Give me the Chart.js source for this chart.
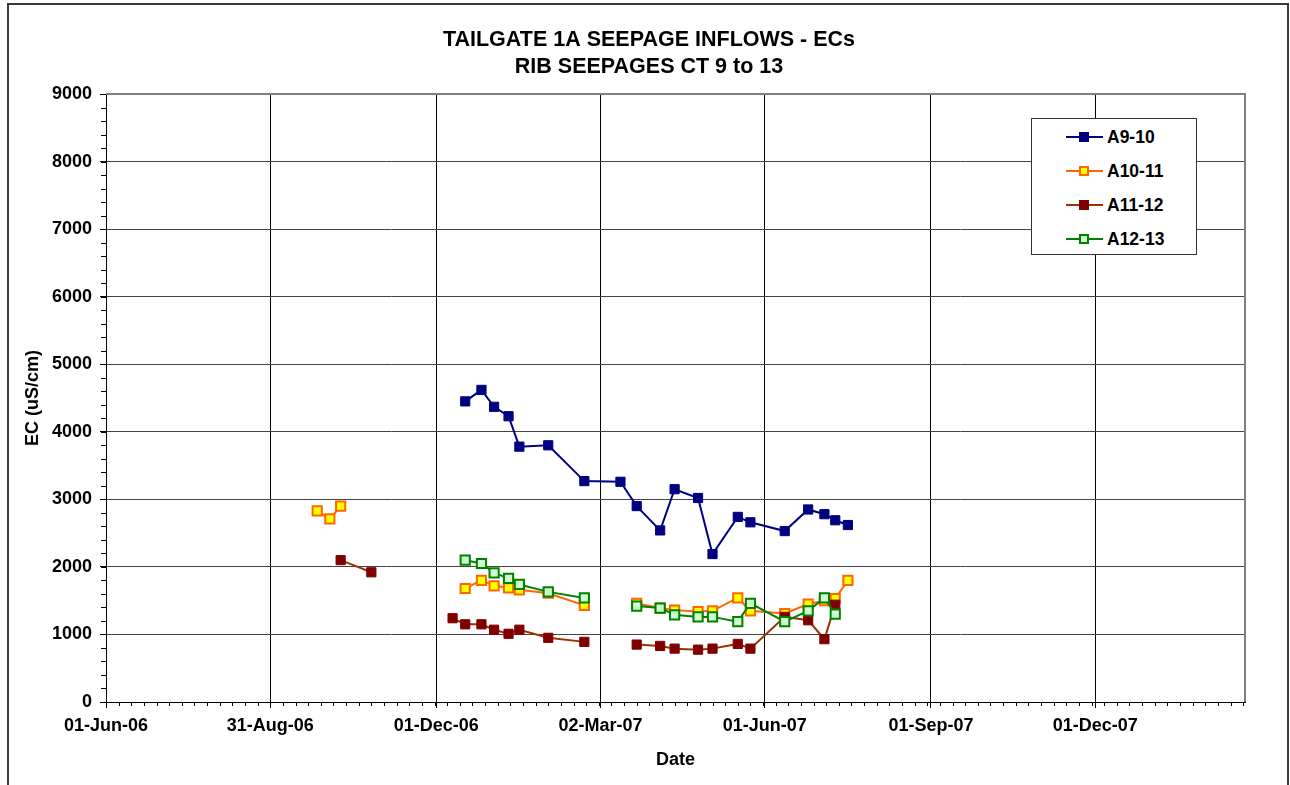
<!DOCTYPE html>
<html>
<head>
<meta charset="utf-8">
<title>Tailgate 1A seepage inflows - ECs</title>
<script src="https://cdn.jsdelivr.net/npm/chart.js@4.4.1/dist/chart.umd.min.js"></script>
<style>
  html, body { margin: 0; padding: 0; background: #fff; }
  #wrap { position: relative; width: 1290px; height: 785px; overflow: hidden; }
  #frame { position: absolute; left: 7px; top: 3px; width: 1278px; height: 800px; border: 2px solid #3a3a3a; }
  #chartBox { position: absolute; left: 0; top: 0; width: 1290px; height: 785px; }
  #legend { position: absolute; left: 1031px; top: 118px; width: 164px; height: 135px;
            border: 1px solid #333; background: #fff;
            font: bold 17.5px "Liberation Sans", Arial, sans-serif; color: #000; }
  .row { position: absolute; left: 0; height: 20px; width: 100%; }
  .sym { position: absolute; left: 34px; top: 0; width: 37px; height: 20px; }
  .sym .ln { position: absolute; left: 0; top: 9px; width: 37px; height: 2px; }
  .sym .mk { position: absolute; top: 5px; left: 13px; box-sizing: border-box; width: 10px; height: 10px; }
  .row .txt { position: absolute; left: 75px; top: 0; line-height: 20px; }
</style>
</head>
<body>
<div id="wrap">
  <div id="frame"></div>
  <div id="chartBox"><canvas id="myChart"></canvas></div>
  <div id="legend"></div>
</div>
<script>
// Sampling dates (ISO) shared by all four seepage series.
// 2006-11-20 is an empty row that separates the October readings from the rest.
const sampleDates = [
    "2006-09-26", "2006-10-03", "2006-10-09", "2006-10-26", "2006-11-20", "2006-12-10",
    "2006-12-17", "2006-12-26", "2007-01-02", "2007-01-10", "2007-01-16",
    "2007-02-01", "2007-02-21", "2007-03-13", "2007-03-22", "2007-04-04",
    "2007-04-12", "2007-04-25", "2007-05-03", "2007-05-17", "2007-05-24",
    "2007-06-12", "2007-06-25", "2007-07-04", "2007-07-10", "2007-07-17"
];

// EC readings in uS/cm, null = not sampled
const ecA9_10 = [null, null, null, null, null, null, 4450, 4620, 4370, 4230, 3780, 3800, 3270, 3260,
                 2900, 2540, 3150, 3020, 2190, 2740, 2660, 2530, 2850, 2780, 2690, 2620];
const ecA10_11 = [2830, 2710, 2900, null, null, null, 1680, 1800, 1720, 1690, 1660, 1610, 1430, null,
                  1460, 1390, 1360, 1340, 1350, 1540, 1350, 1310, 1450, 1500, 1530, 1800];
const ecA11_12 = [null, null, 2100, 1920, null, 1240, 1150, 1150, 1070, 1010, 1070, 950, 890, null,
                  850, 830, 790, 775, 790, 860, 790, 1260, 1210, 930, 1440, null];
const ecA12_13 = [null, null, null, null, null, null, 2100, 2050, 1910, 1830, 1740, 1630, 1540, null,
                  1420, 1390, 1290, 1260, 1260, 1190, 1460, 1190, 1350, 1540, 1300, null];

// Date axis: major tick dates, axis end, minor step in days
const xTickDates = ["2006-06-01", "2006-08-31", "2006-12-01", "2007-03-02",
                    "2007-06-01", "2007-09-01", "2007-12-01"];
const xEndDate = "2008-02-22";
const xMinorDays = 7;

const MONTHS = ["Jan", "Feb", "Mar", "Apr", "May", "Jun", "Jul", "Aug", "Sep", "Oct", "Nov", "Dec"];
const EPOCH = Date.UTC(1899, 11, 30);
const DAY = 86400000;

// spreadsheet-style day serial
function toSerial(iso) {
    const [y, m, d] = iso.split("-").map(Number);
    return (Date.UTC(y, m - 1, d) - EPOCH) / DAY;
}
function fmtDate(serial) {
    const dt = new Date(EPOCH + Math.round(serial) * DAY);
    return String(dt.getUTCDate()).padStart(2, "0") + "-" + MONTHS[dt.getUTCMonth()] + "-" +
        String(dt.getUTCFullYear()).slice(2);
}
function points(values) {
    return sampleDates.map((d, i) => ({ x: toSerial(d), y: values[i] }));
}

const FONT = '"Liberation Sans", Arial, sans-serif';

function series(label, values, line, fill, edge, edgeWidth, order) {
    return {
        label: label,
        data: points(values),
        borderColor: line,
        backgroundColor: fill,
        borderWidth: 2,
        pointStyle: "rect",
        pointRadius: 6.5,
        pointHoverRadius: 6.5,
        pointBackgroundColor: fill,
        pointBorderColor: edge,
        pointBorderWidth: edgeWidth,
        tension: 0,
        spanGaps: false,
        order: order
    };
}

const datasets = [
    series("A9-10", ecA9_10, "#000080", "#000080", "#000080", 1, 4),
    series("A10-11", ecA10_11, "#FF6600", "#FFFF00", "#FF6600", 2, 3),
    series("A11-12", ecA11_12, "#993300", "#800000", "#800000", 1, 2),
    series("A12-13", ecA12_13, "#008000", "#CCFFCC", "#008000", 2, 1)
];

// minor tick marks and the grey top/right edge of the plot area
const axisExtras = {
    id: "axisExtras",
    beforeDatasetsDraw(chart) {
        const { ctx, chartArea: a } = chart;
        ctx.save();
        ctx.strokeStyle = "#808080";
        ctx.lineWidth = 2;
        ctx.beginPath();
        ctx.moveTo(a.left, a.top);
        ctx.lineTo(a.right, a.top);
        ctx.lineTo(a.right, a.bottom);
        ctx.stroke();
        ctx.restore();
    },
    afterDraw(chart) {
        const { ctx, chartArea: a, scales: { x, y } } = chart;
        ctx.save();
        ctx.strokeStyle = "#000";
        ctx.lineWidth = 1;
        ctx.beginPath();
        for (let v = x.min; v <= x.max; v += xMinorDays) {
            const px = Math.round(x.getPixelForValue(v)) + 0.5;
            ctx.moveTo(px, a.bottom);
            ctx.lineTo(px, a.bottom + 4);
        }
        for (let v = y.min; v <= y.max; v += 200) {
            const py = Math.round(y.getPixelForValue(v)) + 0.5;
            ctx.moveTo(a.left - 5, py);
            ctx.lineTo(a.left, py);
        }
        ctx.stroke();
        ctx.restore();
    }
};

drawChart();
buildLegend();

function drawChart() {
    const config = {
        type: "line",
        data: { datasets: datasets },
        options: {
            responsive: true,
            maintainAspectRatio: false,
            animation: false,
            layout: { padding: { left: 8, right: 0, top: 0, bottom: 0 } },
            plugins: {
                legend: { display: false },
                tooltip: { enabled: false },
                title: {
                    display: true,
                    text: ["TAILGATE 1A SEEPAGE INFLOWS - ECs", "RIB SEEPAGES CT 9 to 13"],
                    color: "#000",
                    font: { family: FONT, size: 21.5, weight: "bold", lineHeight: 27 / 21.5 },
                    padding: { top: 26.5, bottom: 13.5 }
                }
            },
            scales: {
                x: {
                    type: "linear",
                    min: toSerial(xTickDates[0]),
                    max: toSerial(xEndDate),
                    afterBuildTicks: (scale) => {
                        scale.ticks = xTickDates.map(d => ({ value: toSerial(d) }));
                    },
                    afterFit: (scale) => { scale.height = 83; },
                    ticks: {
                        autoSkip: false,
                        maxRotation: 0,
                        padding: 7,
                        color: "#000",
                        font: { family: FONT, size: 18, weight: "bold" },
                        callback: (v) => fmtDate(v)
                    },
                    grid: { color: "#000", lineWidth: 1, tickLength: 6, tickColor: "#000" },
                    border: { color: "#000", width: 1 },
                    title: {
                        display: true,
                        text: "Date",
                        color: "#000",
                        font: { family: FONT, size: 18, weight: "bold" },
                        padding: { top: 0, bottom: 14.2 }
                    }
                },
                y: {
                    min: 0,
                    max: 9000,
                    afterFit: (scale) => { scale.width = 98; },
                    ticks: {
                        stepSize: 1000,
                        padding: 8,
                        color: "#000",
                        font: { family: FONT, size: 18, weight: "bold" },
                        callback: (v) => String(v)
                    },
                    grid: { color: "#444", lineWidth: 1, tickLength: 6, tickColor: "#000" },
                    border: { color: "#000", width: 1 },
                    title: {
                        display: true,
                        text: "EC (uS/cm)",
                        color: "#000",
                        font: { family: FONT, size: 18, weight: "bold" },
                        padding: { top: 14.2, bottom: 0 }
                    }
                },
                // empty right-hand gutter between the plot and the outer frame
                gutter: {
                    position: "right",
                    afterFit: (scale) => { scale.width = 45; },
                    ticks: { display: false },
                    grid: { display: false, drawTicks: false },
                    border: { display: false }
                }
            }
        },
        plugins: [axisExtras]
    };
    new Chart(document.getElementById("myChart"), config);
}

// legend box drawn as HTML, styled from the datasets
function buildLegend() {
    const box = document.getElementById("legend");
    datasets.forEach((ds, i) => {
        const row = document.createElement("div");
        row.className = "row";
        row.style.top = (8 + i * 34) + "px";
        row.innerHTML =
            '<div class="sym"><div class="ln" style="background:' + ds.borderColor + '"></div>' +
            '<div class="mk" style="background:' + ds.pointBackgroundColor + ';border:' +
            ds.pointBorderWidth + 'px solid ' + ds.pointBorderColor + '"></div></div>' +
            '<span class="txt">' + ds.label + '</span>';
        box.appendChild(row);
    });
}
</script>
</body>
</html>
